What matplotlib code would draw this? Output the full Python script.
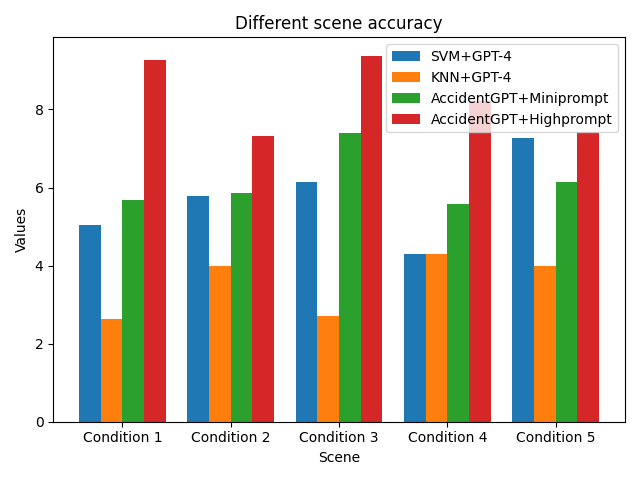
import numpy as np
import matplotlib
matplotlib.use('Agg')
import matplotlib.pyplot as plt

scenes = ['Condition 1', 'Condition 2', 'Condition 3', 'Condition 4', 'Condition 5']
svm_gpt4 = [5.03, 5.79, 6.15, 4.31, 7.26]
knn_gpt4 = [2.62, 4.00, 2.72, 4.31, 4.00]
mini_prompt = [5.67, 5.85, 7.41, 5.59, 6.15]
high_prompt = [9.28, 7.31, 9.38, 8.21, 7.43]

series = [
    ('SVM+GPT-4', svm_gpt4),
    ('KNN+GPT-4', knn_gpt4),
    ('AccidentGPT+Miniprompt', mini_prompt),
    ('AccidentGPT+Highprompt', high_prompt),
]

x = np.arange(len(scenes))
width = 0.2

fig, ax = plt.subplots(figsize=(6.4, 4.8), dpi=100)
for i, (name, vals) in enumerate(series):
    ax.bar(x + i * width, vals, width, label=name)

ax.set_xticks(x + 1.5 * width)
ax.set_xticklabels(scenes)
ax.set_xlabel('Scene')
ax.set_ylabel('Values')
ax.set_title('Different scene accuracy')
ax.legend(loc='upper right')

fig.tight_layout()
fig.savefig('out.png')
